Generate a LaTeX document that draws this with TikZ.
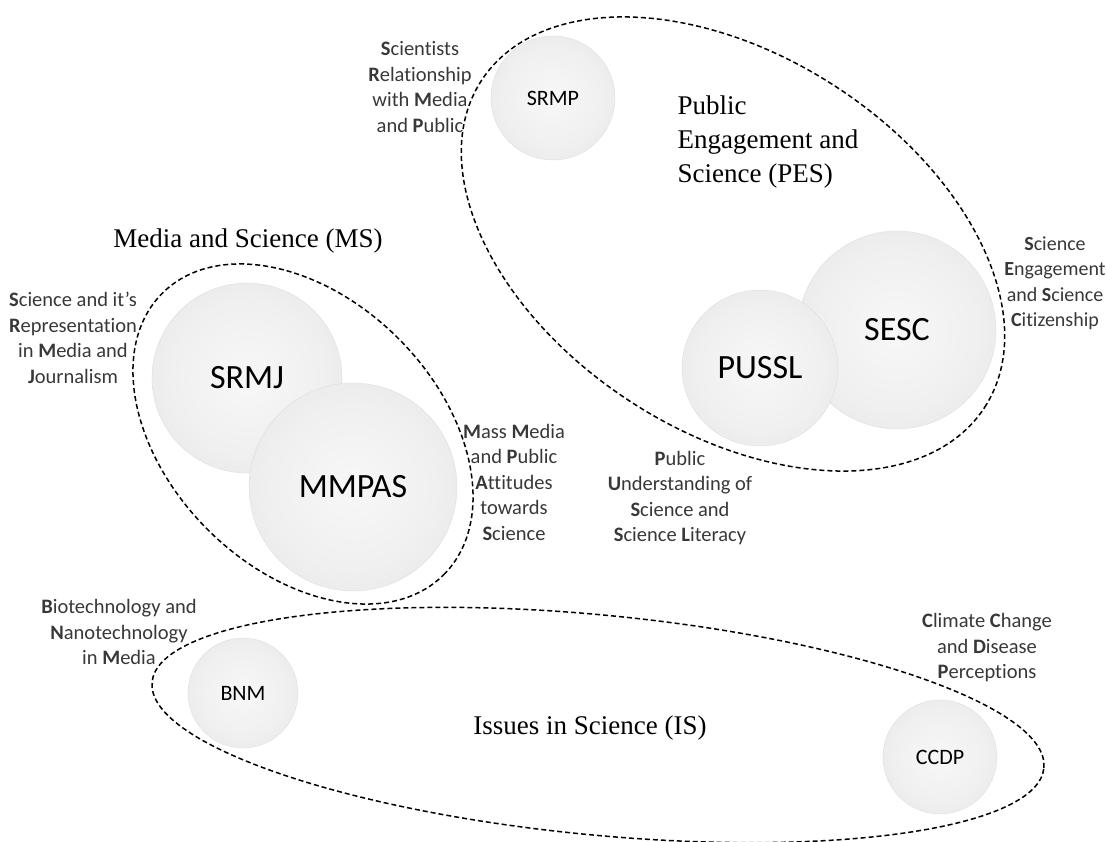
\documentclass[tikz,border=0pt]{standalone}
\usepackage{fontspec}
\setmainfont{Carlito}[Ligatures={NoCommon}]
\newfontfamily\serifttl{Liberation Serif}
\usetikzlibrary{shapes.geometric}

\pgfdeclareradialshading{bubble}{\pgfpoint{0bp}{0bp}}{color(0bp)=(white!97!black); color(20bp)=(white!94!black); color(38bp)=(white!89!black); color(46bp)=(white!84!black); color(49bp)=(white!83!black); color(50bp)=(white!86!black)}

\tikzset{
  bubble/.style={circle, shading=bubble, draw=white!86!black, line width=0.3pt, inner sep=0pt, font=\fontsize{34}{40}\selectfont},
  smallbubble/.style={bubble, font=\fontsize{22}{26}\selectfont},
  group/.style={ellipse, draw, dash pattern=on 5pt off 3pt, line width=1.5pt, inner sep=0pt},
  note/.style={align=center, text=black!78, font=\fontsize{20.5}{25.5}\selectfont},
  heading/.style={font=\serifttl\fontsize{27}{34}\selectfont}
}

\begin{document}
\begin{tikzpicture}[x=1pt,y=1pt]
\useasboundingbox (0,0) rectangle (1106,-842);

% groups
\node[group, rotate=-45, minimum width=398, minimum height=270] (ms) at (303,-434) {};
\node[group, rotate=-33, minimum width=600, minimum height=376] (pes) at (733,-244) {};
\node[group, rotate=-5.5, minimum width=896, minimum height=220] (is) at (598,-725) {};

\node[heading] (mstitle) at (248,-241) {Media and Science (MS)};
\node[heading, align=left, anchor=west] (pestitle) at (674,-142) {Public\\Engagement and\\Science (PES)};
\node[heading] (istitle) at (590,-728) {Issues in Science (IS)};

% topics
\node[smallbubble, minimum size=124] (srmp) at (553,-98) {SRMP};
\node[bubble, minimum size=190] (srmj) at (247,-378) {SRMJ};
\node[bubble, minimum size=208] (mmpas) at (353,-487) {MMPAS};
\node[bubble, minimum size=198] (sesc) at (897,-330) {SESC};
\node[bubble, minimum size=156] (pussl) at (760,-368) {PUSSL};
\node[smallbubble, minimum size=110] (bnm) at (243,-693) {BNM};
\node[smallbubble, minimum size=114] (ccdp) at (940,-757) {CCDP};

% descriptions
\node[note] (srmptext) at (420,-87) {\textbf{S}cientists\\\textbf{R}elationship\\with \textbf{M}edia\\and \textbf{P}ublic};
\node[note] (srmjtext) at (73,-338) {\textbf{S}cience and it’s\\\textbf{R}epresentation\\in \textbf{M}edia and\\\textbf{J}ournalism};
\node[note] (mmpastext) at (514,-482) {\textbf{M}ass \textbf{M}edia\\and \textbf{P}ublic\\\textbf{A}ttitudes\\towards\\\textbf{S}cience};
\node[note, font=\fontsize{20}{25.5}\selectfont] (sesctext) at (1055,-283) {\textbf{S}cience\\\textbf{E}ngagement\\and \textbf{S}cience\\\textbf{C}itizenship};
\node[note] (pussltext) at (680,-498) {\textbf{P}ublic\\\textbf{U}nderstanding of\\\textbf{S}cience and\\\textbf{S}cience \textbf{L}iteracy};
\node[note] (bnmtext) at (119,-632) {\textbf{B}iotechnology and\\\textbf{N}anotechnology\\in \textbf{M}edia};
\node[note] (ccdptext) at (987,-648) {\textbf{C}limate \textbf{C}hange\\and \textbf{D}isease\\\textbf{P}erceptions};
\end{tikzpicture}
\end{document}
